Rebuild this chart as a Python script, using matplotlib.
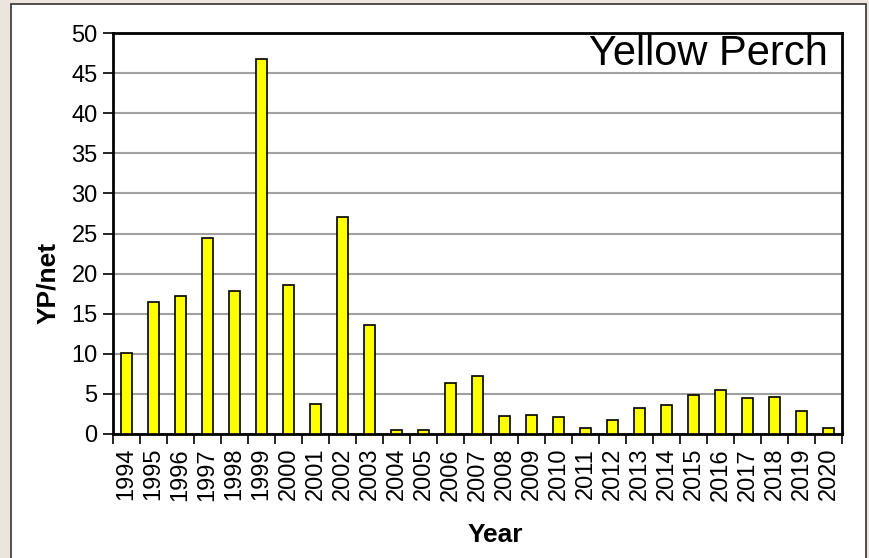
import matplotlib.pyplot as plt
from matplotlib.patches import Rectangle

plt.rcParams['font.family'] = ['Liberation Sans', 'DejaVu Sans']

# yellow perch catch per net
years = [str(y) for y in range(1994, 2021)]
yp_per_net = [10.1, 16.4, 17.2, 24.4, 17.8, 46.7, 18.6, 3.7, 27.0, 13.6,
              0.55, 0.5, 6.4, 7.2, 2.3, 2.4, 2.1, 0.8, 1.7, 3.3,
              3.6, 4.9, 5.5, 4.5, 4.6, 2.9, 0.8]
y_ticks = list(range(0, 51, 5))

fig = plt.figure(figsize=(8.69, 5.58), dpi=100, facecolor='#ebe5de')
# white panel with thin dark frame, like the screenshot
fig.patches.append(Rectangle((11 / 869, -0.05), (866 - 11) / 869, 1.05 - 4 / 558,
                             transform=fig.transFigure, facecolor='white',
                             edgecolor='#333333', linewidth=1.2, zorder=-10))

ax = fig.add_axes([113 / 869, 124 / 558, 729 / 869, 401 / 558])
ax.set_zorder(1)
x = list(range(len(years)))
ax.bar(x, yp_per_net, width=0.42, color='#ffff00', edgecolor='black',
       linewidth=1.2, zorder=3)

ax.set_xlim(-0.5, len(years) - 0.5)
ax.set_ylim(0, 50)
ax.set_yticks(y_ticks)
ax.tick_params(axis='y', labelsize=17, length=7, width=1.2, pad=4)
ax.yaxis.grid(True, color='#a0a0a0', linewidth=1.5, zorder=0)
ax.set_axisbelow(True)

# category labels at bar centres, tick marks between categories
ax.set_xticks(x)
ax.set_xticklabels(years, rotation=90, fontsize=17)
ax.tick_params(axis='x', which='major', length=0, pad=10)
ax.set_xticks([i - 0.5 for i in range(len(years) + 1)], minor=True)
ax.tick_params(axis='x', which='minor', length=7, width=1.2, color='black')

for s in ax.spines.values():
    s.set_linewidth(2)
    s.set_color('black')

ax.set_ylabel('YP/net', fontsize=19, fontweight='bold')
ax.yaxis.set_label_coords(-0.073, 0.377)
ax.set_xlabel('Year', fontsize=19, fontweight='bold')
ax.xaxis.set_label_coords(0.524, -0.222)

ax.text(0.981, 0.998, 'Yellow Perch', transform=ax.transAxes, ha='right',
        va='top', fontsize=30, zorder=5)

fig.savefig('out.png', dpi=100, facecolor=fig.get_facecolor())
